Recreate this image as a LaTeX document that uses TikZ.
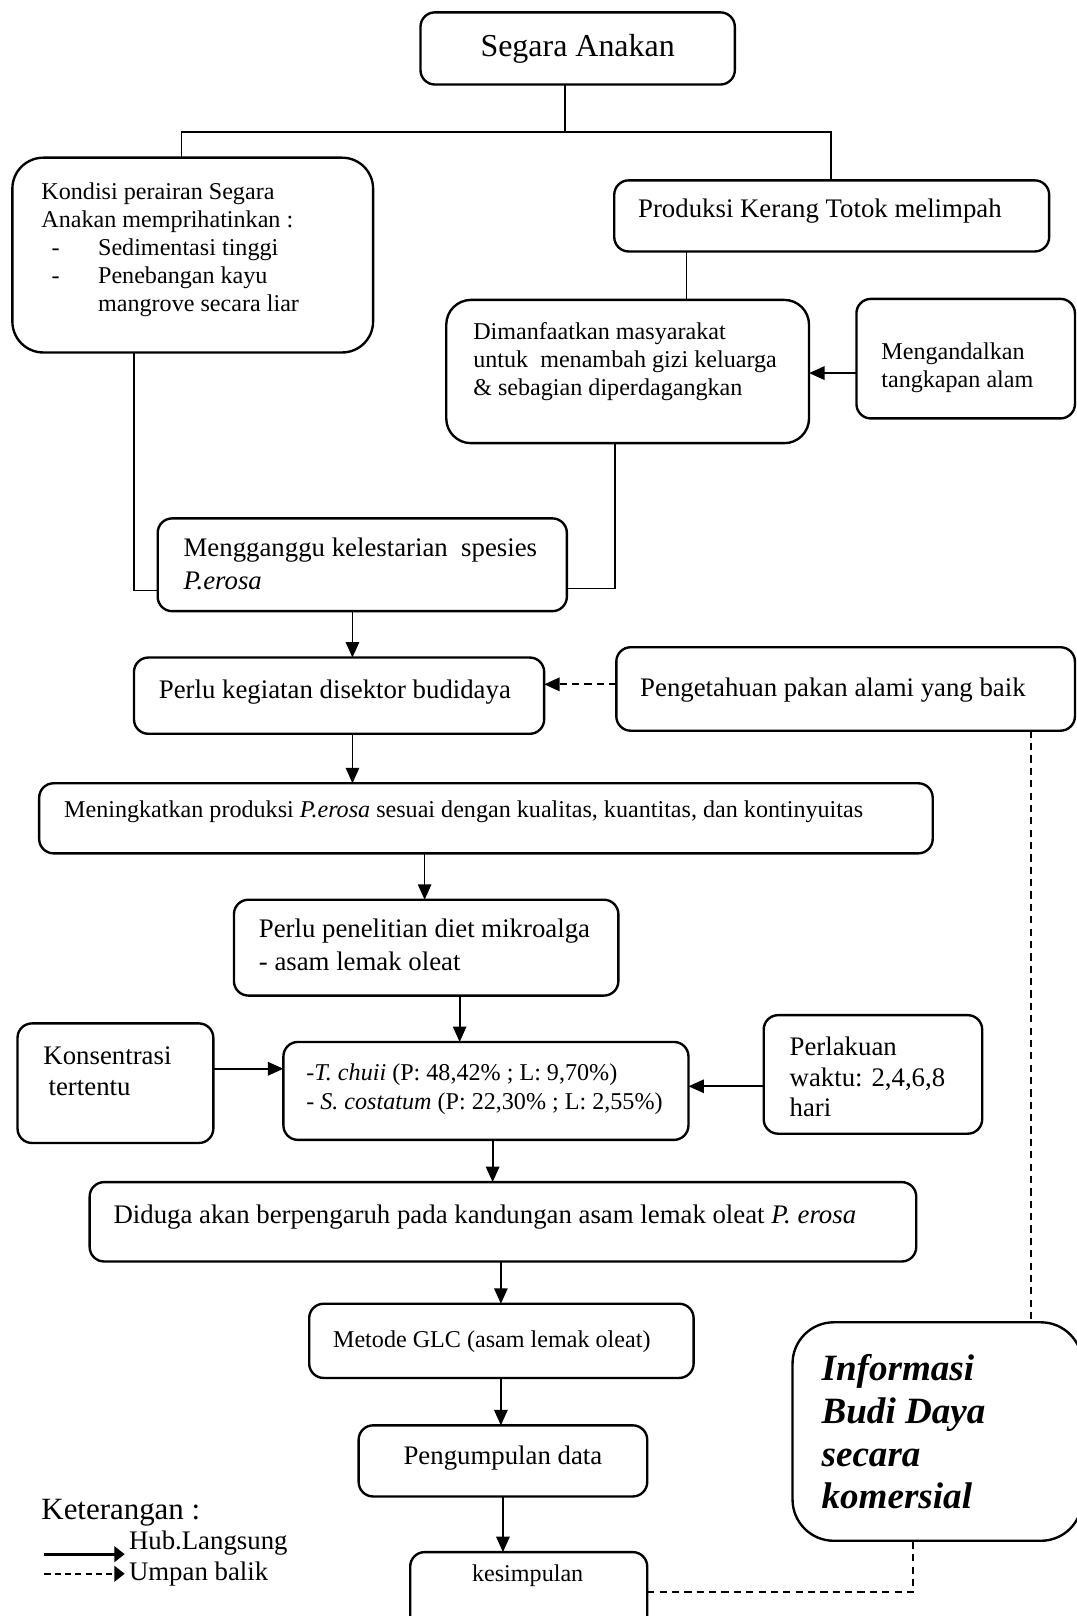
\documentclass[tikz,border=0pt]{standalone}
\usepackage{fontspec}
\setmainfont{Liberation Serif}
\usetikzlibrary{arrows.meta}
\begin{document}
\begin{tikzpicture}[x=1pt,y=-1pt,
  box/.style={draw, line width=2.3pt, rounded corners=14pt, inner sep=0pt, outer sep=0pt},
  ln/.style={line width=1.7pt},
  arr/.style={line width=1.7pt, -{Triangle[length=15pt,width=13pt]}},
  dsh/.style={line width=2pt, dash pattern=on 7pt off 5pt},
  dsharr/.style={dsh, -{Triangle[length=15pt,width=13pt]}},
  larr/.style={line width=2.6pt, -{Triangle[length=10pt,width=15pt]}},
  ldsh/.style={line width=2.4pt, dash pattern=on 6pt off 4pt, -{Triangle[length=10pt,width=15pt]}},
  ta/.style={font=\fontsize{26}{30}\selectfont, anchor=west, inner sep=0pt, text height=18pt, text depth=5pt, yshift=-2pt},
  tb/.style={font=\fontsize{23.4}{27}\selectfont, anchor=west, inner sep=0pt, text height=16.4pt, text depth=4.7pt, yshift=-2pt},
  tbig/.style={font=\fontsize{31}{36}\selectfont, inner sep=0pt, text height=21.7pt, text depth=6.2pt, yshift=-2pt},
  tinfo/.style={font=\fontsize{36}{42}\selectfont\bfseries\itshape, anchor=west, inner sep=0pt, text height=25pt, text depth=7pt, yshift=-2pt},
  tket/.style={font=\fontsize{30}{34}\selectfont, anchor=west, inner sep=0pt, text height=21pt, text depth=6pt, yshift=-2pt}
]
\clip (0,0) rectangle (1045,1568);
\fill[white] (0,0) rectangle (1045,1568);

% boxes
\node[box, minimum width=305pt, minimum height=70pt] (seg) at (560.5,47) {};
\node[box, rounded corners=30pt, minimum width=350pt, minimum height=189pt] (kond) at (187,247.5) {};
\node[box, minimum width=422pt, minimum height=69pt] (prod) at (807,209.5) {};
\node[box, rounded corners=24pt, minimum width=352pt, minimum height=139pt] (diman) at (609,360.5) {};
\node[box, minimum width=212pt, minimum height=116pt] (meng) at (937,348) {};
\node[box, minimum width=397pt, minimum height=90pt] (ganggu) at (351.5,548) {};
\node[box, minimum width=398pt, minimum height=74pt] (kegiatan) at (329,675) {};
\node[box, minimum width=445pt, minimum height=81pt] (tahu) at (820.5,668.5) {};
\node[box, minimum width=867pt, minimum height=68pt] (tingkat) at (471.5,794) {};
\node[box, minimum width=373pt, minimum height=93pt] (teliti) at (413.5,919.5) {};
\node[box, minimum width=190pt, minimum height=116pt] (konsen) at (112,1051) {};
\node[box, minimum width=393pt, minimum height=95pt] (chuii) at (471.5,1058.5) {};
\node[box, minimum width=212pt, minimum height=115pt] (laku) at (847,1042.5) {};
\node[box, minimum width=802pt, minimum height=77pt] (duga) at (488,1185.5) {};
\node[box, minimum width=373pt, minimum height=72pt] (glc) at (486.5,1301) {};
\node[box, minimum width=280pt, minimum height=69pt] (kumpul) at (488,1417.5) {};
\node[box, minimum width=230pt, minimum height=84pt] (simpul) at (513,1548) {};
\node[box, rounded corners=40pt, minimum width=281pt, minimum height=212pt] (info) at (909.5,1389) {};

% texts
\node[tbig] (tseg) at (560.5,45) {Segara Anakan};
\node[tb] (k1) at (40,186) {Kondisi perairan Segara};
\node[tb] (k2) at (40,213) {Anakan memprihatinkan :};
\node[tb] (k3a) at (50,240) {-};
\node[tb] (k3) at (95,240) {Sedimentasi tinggi};
\node[tb] (k4a) at (50,267) {-};
\node[tb] (k4) at (95,267) {Penebangan kayu};
\node[tb] (k5) at (95,294) {mangrove secara liar};
\node[ta] (tprod) at (619,203) {Produksi Kerang Totok melimpah};
\node[tb] (d1) at (459,322) {Dimanfaatkan masyarakat};
\node[tb] (d2) at (459,349) {untuk\ \ menambah gizi keluarga};
\node[tb] (d3) at (459,376) {\& sebagian diperdagangkan};
\node[tb] (m1t) at (855,341) {Mengandalkan};
\node[tb] (m2t) at (855,368) {tangkapan alam};
\node[ta] (g1t) at (178,531) {Mengganggu kelestarian\ \ spesies};
\node[ta] (g2t) at (178,563) {\textit{P.erosa}};
\node[ta] (tkeg) at (154,669) {Perlu kegiatan disektor budidaya};
\node[ta] (ttahu) at (621,667) {Pengetahuan pakan alami yang baik};
\node[tb] (ttingkat) at (62,785) {Meningkatkan produksi \textit{P.erosa} sesuai dengan kualitas, kuantitas, dan kontinyuitas};
\node[ta] (te1) at (251,901) {Perlu penelitian diet mikroalga};
\node[ta] (te2) at (251,933) {- asam lemak oleat};
\node[ta] (ko1) at (42,1024) {Konsentrasi};
\node[ta] (ko2) at (47,1054) {tertentu};
\node[tb] (c1) at (297,1041) {-\textit{T. chuii} (P: 48,42\% ; L: 9,70\%)};
\node[tb] (c2) at (297,1069) {- \textit{S. costatum} (P: 22,30\% ; L: 2,55\%)};
\node[ta] (l1) at (766,1016) {Perlakuan};
\node[ta] (l2) at (766,1046) {waktu: 2,4,6,8};
\node[ta] (l3) at (766,1075) {hari};
\node[ta] (tduga) at (110,1179) {Diduga akan berpengaruh pada kandungan asam lemak oleat \textit{P. erosa}};
\node[tb] (tglc) at (323,1300) {Metode GLC (asam lemak oleat)};
\node[ta, anchor=center] (tkumpul) at (488,1412) {Pengumpulan data};
\node[tb, anchor=center] (tsimpul) at (512,1527) {kesimpulan};
\node[tinfo] (i1) at (797,1328) {Informasi};
\node[tinfo] (i2) at (797,1370) {Budi Daya};
\node[tinfo] (i3) at (797,1412) {secara};
\node[tinfo] (i4) at (797,1453) {komersial};
\node[tket] (ket) at (40,1465) {Keterangan :};
\node[ta] (hub) at (125,1495) {Hub.Langsung};
\node[ta] (umpan) at (125,1525) {Umpan balik};

% connectors
\coordinate (jn) at (548,128);
\draw[ln] ([xshift=-12.5pt]seg.south) -- (jn);
\draw[ln] ([xshift=-11pt]kond.north) |- (jn) -| ([xshift=-1pt]prod.north);
\draw[ln] ([xshift=-141pt]prod.south) coordinate (p1) -- (p1 |- diman.north);
\draw[arr] ([yshift=-14pt]meng.west) coordinate (mm) -- (mm -| diman.east);
\draw[ln] ([xshift=-57pt]kond.south) |- ([yshift=-25pt]ganggu.west);
\draw[ln] ([xshift=-12pt]diman.south) |- ([yshift=-23pt]ganggu.east);
\draw[arr] ([xshift=-9.5pt]ganggu.south) coordinate (g1) -- (g1 |- kegiatan.north);
\draw[dsharr] ([yshift=4.5pt]tahu.west) coordinate (t1) -- (t1 -| kegiatan.east);
\draw[dsh] ([xshift=179.5pt]tahu.south) coordinate (t2) -- (t2 |- info.north);
\draw[arr] ([xshift=13pt]kegiatan.south) coordinate (kk) -- (kk |- tingkat.north);
\draw[arr] ([xshift=-59.5pt]tingkat.south) coordinate (ti) -- (ti |- teliti.north);
\draw[arr] ([xshift=32.5pt]teliti.south) coordinate (te) -- (te |- chuii.north);
\draw[arr] ([yshift=14pt]konsen.east) coordinate (ko) -- (ko -| chuii.west);
\draw[arr] ([yshift=-11.5pt]laku.west) coordinate (la) -- (la -| chuii.east);
\draw[arr] ([xshift=6.5pt]chuii.south) coordinate (ch) -- (ch |- duga.north);
\draw[arr] ([xshift=-2pt]duga.south) coordinate (du) -- (du |- glc.north);
\draw[arr] ([xshift=-0.5pt]glc.south) coordinate (gl) -- (gl |- kumpul.north);
\draw[arr] (kumpul.south) coordinate (ku) -- (ku |- simpul.north);
\draw[dsh] ([yshift=3pt]simpul.east) -| ([xshift=-23.5pt]info.south);

% legend
\coordinate (la1) at (43,1508);
\coordinate (la2) at (121,1508);
\coordinate (lb1) at (43,1527);
\coordinate (lb2) at (121,1527);
\draw[larr] (la1) -- (la2);
\draw[ldsh] (lb1) -- (lb2);
\end{tikzpicture}
\end{document}
